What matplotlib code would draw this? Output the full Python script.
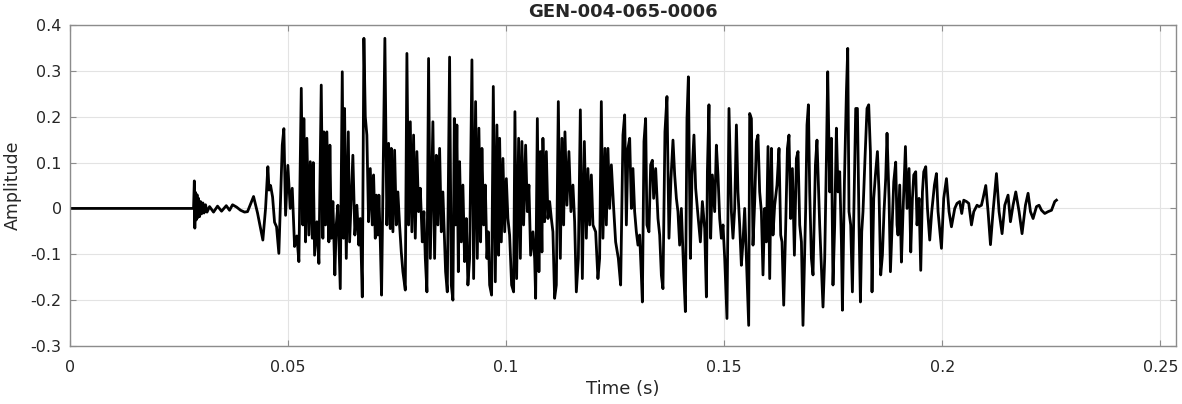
import matplotlib
matplotlib.use('Agg')
import matplotlib.pyplot as plt

# waveform extrema: time in ms, amplitude
t_ms = [
    0.0, 28.33, 28.51, 28.62, 28.78, 28.95, 29.13, 29.31, 29.47, 29.70,
    29.93, 30.16, 30.46, 30.73, 31.08, 31.42, 32.00, 32.91, 33.83, 34.75,
    35.83, 36.58, 37.27, 38.19, 39.11, 40.02, 40.71, 42.09, 43.00, 44.22,
    44.84, 45.37, 45.64, 45.99, 46.45, 46.90, 47.36, 47.89,
    48.67, 49.04, 49.43, 49.95, 50.50, 50.96, 51.49, 52.02, 52.48, 53.03,
    53.39, 53.62, 54.01, 54.31, 54.77, 55.09, 55.55, 55.78, 56.08, 56.61,
    57.07, 57.61, 57.98, 58.21, 58.60, 58.90, 59.36, 59.59, 59.91, 60.28,
    60.73, 61.05, 61.42, 61.97, 62.43, 62.73, 62.96, 63.35, 63.81, 64.11,
    64.86, 65.32, 65.78, 66.24, 66.56, 67.02, 67.39, 67.71, 68.07, 68.46,
    68.85, 69.31, 69.61, 70.00, 70.23, 70.60, 70.83, 71.15, 71.44, 72.20,
    72.66, 73.05, 73.44, 73.67, 74.04, 74.43, 74.82, 75.18, 75.57, 75.96,
    76.33, 76.88, 77.25, 77.64, 78.03, 78.39, 78.78, 79.17, 79.54, 79.93,
    80.32, 80.78, 81.15, 81.47, 81.84, 82.22, 82.62, 83.21, 83.60, 83.99,
    84.36, 84.75, 85.14, 85.50, 86.12, 86.51, 87.04, 87.43, 87.80, 88.12,
    88.42, 88.71, 89.04, 89.33, 89.72, 90.09, 90.48, 90.87, 91.24, 91.63,
    92.16, 92.55, 93.00, 93.39, 93.76, 94.15, 94.45, 94.84, 95.23, 95.60,
    95.92, 96.22, 96.67, 97.06, 97.52, 97.89, 98.28, 98.51, 98.90, 99.27,
    99.66, 100.05, 100.41, 100.80, 101.26, 101.72, 102.02, 102.41, 102.87, 103.26,
    103.62, 104.01, 104.47, 104.86, 105.23, 105.62, 106.15, 106.54, 106.77, 107.16,
    107.52, 107.84, 108.21, 108.44, 108.83, 109.22, 109.59, 109.98, 110.37, 110.73,
    111.12, 111.51, 111.97, 112.43, 112.80, 113.19, 113.49, 113.94, 114.40, 114.86,
    115.32, 115.71, 116.10, 116.56, 117.02, 117.48, 117.94, 118.39, 118.76, 119.15,
    119.54, 119.91, 120.53, 121.05, 121.44, 121.83, 122.20, 122.66, 122.98, 123.35,
    123.74, 124.13, 124.66, 125.11, 125.73, 126.26, 126.79, 127.18, 127.57, 127.94,
    128.33, 128.72, 129.08, 129.47, 129.86, 130.23, 130.62, 131.01, 131.24, 131.61,
    131.99, 132.29, 132.75, 133.14, 133.53, 133.83, 134.29, 134.82, 135.21, 135.60,
    135.96, 136.42, 136.88, 137.34, 137.80, 138.26, 138.65, 139.04, 139.40, 139.79,
    140.18, 140.71, 141.10, 141.47, 141.79, 142.25, 142.62, 143.07, 143.46, 143.99,
    144.54, 145.00, 145.53, 145.92, 146.15, 146.51, 146.90, 147.29, 147.82, 148.21,
    148.58, 148.97, 149.36, 149.73, 150.12, 150.64, 151.10, 151.65, 152.02, 152.41,
    152.80, 153.16, 153.55, 153.94, 154.31, 154.70, 155.09, 155.62, 155.85, 156.24,
    156.61, 157.00, 157.39, 157.75, 158.14, 158.53, 158.90, 159.29, 159.68, 160.05,
    160.44, 160.83, 161.19, 161.58, 162.11, 162.57, 162.96, 163.26, 163.65, 164.11,
    164.50, 164.86, 165.25, 165.64, 166.10, 166.56, 166.93, 167.32, 167.71, 168.07,
    168.69, 168.99, 169.31, 169.61, 170.00, 170.37, 170.92, 171.28, 171.74, 171.90,
    172.29, 172.66, 173.05, 173.44, 173.74, 174.20, 174.59, 174.95, 175.34, 175.73,
    176.10, 176.49, 176.88, 177.11, 177.57, 178.03, 178.33, 178.62, 179.01, 179.40,
    179.70, 180.16, 180.55, 180.92, 181.24, 181.54, 181.83, 182.29, 182.75, 183.14,
    183.53, 183.90, 184.29, 184.68, 185.14, 185.50, 185.89, 186.28, 186.65, 187.04,
    187.34, 187.80, 188.12, 188.58, 188.88, 189.33, 189.63, 189.86, 190.25, 190.64,
    191.01, 191.56, 191.93, 192.39, 192.78, 193.16, 193.47, 193.92, 194.22, 194.68,
    195.07, 195.46, 195.76, 196.22, 196.61, 197.13, 197.59, 198.21, 198.67, 199.04,
    199.82, 200.34, 200.97, 201.56, 202.11, 202.87, 203.39, 204.01, 204.47, 204.93,
    205.55, 206.08, 206.70, 207.23, 207.98, 208.44, 208.99, 209.36, 209.98, 210.51,
    211.06, 211.65, 212.43, 213.03, 213.72, 214.34, 215.09, 215.64, 216.24, 216.86,
    217.62, 218.30, 219.08, 219.68, 220.23, 220.83, 221.61, 222.20, 222.76, 223.51,
    224.27, 225.05, 225.80, 226.19,
]

amplitude = [
    0.0, 0.0, 0.060, -0.043, 0.035, -0.025, 0.030, -0.020, 0.022, -0.018,
    0.015, -0.012, 0.012, -0.010, 0.008, -0.008, 0.004, -0.008, 0.005, -0.006,
    0.006, -0.004, 0.008, 0.003, -0.004, -0.008, -0.007, 0.026, -0.010, -0.069,
    0.0, 0.091, 0.040, 0.050, 0.025, -0.030, -0.040, -0.098,
    0.138, 0.174, -0.015, 0.094, 0.0, 0.044, -0.083, -0.060, -0.116, 0.262,
    -0.036, 0.196, -0.073, 0.153, -0.058, 0.102, -0.065, 0.100, -0.102, -0.029,
    -0.120, 0.269, -0.065, 0.167, -0.036, 0.167, -0.073, 0.138, -0.065, 0.015,
    -0.145, -0.036, 0.007, -0.175, 0.298, -0.065, 0.218, -0.109, 0.167, -0.073,
    0.116, -0.058, 0.007, -0.080, -0.022, -0.193, 0.371, 0.200, 0.160, -0.029,
    0.087, -0.036, 0.073, -0.065, 0.029, -0.058, 0.029, -0.073, -0.189, 0.371,
    -0.036, 0.142, -0.044, 0.131, -0.051, 0.127, -0.036, 0.036, -0.036, -0.095,
    -0.138, -0.178, 0.338, -0.036, 0.189, -0.051, 0.160, -0.065, 0.124, -0.007,
    0.044, -0.073, -0.007, -0.109, -0.182, 0.327, -0.109, 0.189, -0.109, 0.116,
    -0.036, 0.131, -0.051, 0.036, -0.138, -0.182, 0.330, -0.167, -0.200, 0.196,
    -0.036, 0.182, -0.138, 0.102, -0.073, 0.051, -0.116, -0.022, -0.167, -0.109,
    0.324, -0.153, 0.233, -0.109, 0.175, -0.073, 0.131, -0.036, 0.051, -0.109,
    -0.051, -0.167, -0.189, 0.266, -0.160, 0.182, -0.102, 0.153, -0.073, 0.109,
    -0.051, 0.065, -0.022, -0.058, -0.167, -0.182, 0.211, -0.153, 0.153, -0.109,
    0.146, -0.036, 0.138, -0.007, 0.051, -0.102, -0.051, -0.109, -0.196, 0.196,
    -0.138, 0.124, -0.095, 0.153, -0.029, 0.124, -0.022, 0.015, -0.022, -0.051,
    -0.196, -0.167, 0.233, -0.109, 0.153, -0.036, 0.167, 0.007, 0.124, -0.007,
    0.051, -0.029, -0.182, -0.109, 0.215, -0.153, 0.146, -0.065, 0.087, -0.036,
    0.073, -0.036, -0.051, -0.153, -0.109, 0.233, -0.065, 0.131, -0.036, 0.131,
    0.0, 0.095, 0.0, -0.073, -0.109, -0.167, 0.160, 0.204, -0.036, 0.131,
    0.153, 0.0, 0.087, -0.007, -0.051, -0.080, -0.058, -0.146, -0.204, 0.146,
    0.196, -0.036, -0.051, 0.095, 0.105, 0.022, 0.087, -0.022, -0.058, -0.146,
    -0.175, 0.167, 0.244, -0.065, 0.065, 0.149, 0.073, 0.022, -0.007, -0.080,
    0.0, -0.138, -0.225, 0.196, 0.287, -0.109, 0.073, 0.160, 0.044, -0.015,
    -0.073, 0.015, -0.044, -0.193, 0.080, 0.226, -0.065, 0.073, -0.007, 0.138,
    0.073, -0.022, -0.065, -0.036, -0.109, -0.240, 0.218, -0.007, -0.065, 0.0,
    0.182, 0.036, -0.036, -0.124, -0.073, 0.0, -0.109, -0.255, 0.207, 0.196,
    -0.080, 0.015, 0.146, 0.160, 0.036, -0.007, -0.145, 0.0, -0.073, 0.135,
    -0.153, 0.131, -0.058, 0.007, 0.051, 0.131, -0.058, -0.073, -0.211, -0.036,
    0.131, 0.160, -0.022, 0.087, -0.102, 0.109, 0.124, -0.036, -0.073, -0.255,
    0.0, 0.182, 0.226, 0.036, -0.109, -0.145, 0.095, 0.149, 0.015, -0.036,
    -0.131, -0.215, -0.109, 0.109, 0.298, 0.036, 0.153, -0.167, -0.036, 0.175,
    0.036, 0.080, -0.073, -0.222, 0.058, 0.255, 0.349, -0.007, -0.036, -0.182,
    -0.022, 0.218, 0.218, -0.036, -0.204, -0.051, -0.007, 0.109, 0.218, 0.226,
    0.124, -0.182, 0.022, 0.073, 0.124, 0.036, -0.145, -0.102, -0.007, 0.066,
    0.164, 0.022, -0.138, -0.022, 0.058, 0.101, -0.036, -0.058, 0.051, -0.117,
    -0.007, 0.135, 0.0, 0.087, -0.095, 0.022, 0.073, 0.080, -0.036, 0.022,
    -0.135, 0.036, 0.080, 0.091, 0.0, -0.069, -0.007, 0.051, 0.076, -0.007,
    -0.087, 0.022, 0.065, -0.007, -0.040, 0.0, 0.011, 0.015, -0.011, 0.018,
    0.015, 0.011, -0.036, -0.007, 0.007, 0.004, 0.007, 0.022, 0.050, -0.007,
    -0.079, -0.007, 0.076, -0.007, -0.055, 0.007, 0.029, -0.029, 0.007, 0.036,
    -0.007, -0.055, 0.007, 0.033, -0.007, -0.022, 0.004, 0.007, -0.004, -0.011,
    -0.007, -0.004, 0.015, 0.018,
]

x_ticks = [0, 0.05, 0.1, 0.15, 0.2, 0.25]
x_labels = ['0', '0.05', '0.1', '0.15', '0.2', '0.25']
y_ticks = [-0.3, -0.2, -0.1, 0, 0.1, 0.2, 0.3, 0.4]
y_labels = ['-0.3', '-0.2', '-0.1', '0', '0.1', '0.2', '0.3', '0.4']

plt.rcParams['font.family'] = ['DejaVu Sans']

fig = plt.figure(figsize=(11.82, 4.04), dpi=100, facecolor='w')
ax = fig.add_axes([70 / 1182, 58 / 404, 1106 / 1182, 321 / 404])

t = [v / 1000 for v in t_ms]
ax.plot(t, amplitude, color='black', lw=2.0, solid_joinstyle='round')

ax.set_xlim(0, 0.2536)
ax.set_ylim(-0.3, 0.4)
ax.set_xticks(x_ticks)
ax.set_xticklabels(x_labels)
ax.set_yticks(y_ticks)
ax.set_yticklabels(y_labels)

ax.grid(True, color='#e3e3e3', lw=0.8)
ax.set_axisbelow(True)
for spine in ax.spines.values():
    spine.set_color('#8c8c8c')
    spine.set_linewidth(1.0)
ax.tick_params(direction='in', length=4, width=0.8, color='#8c8c8c',
               labelcolor='#262626', labelsize=11.5)
ax.tick_params(axis='x', pad=10)
ax.tick_params(axis='y', pad=6)
ax.tick_params(top=True, right=True)

ax.set_xlabel('Time (s)', fontsize=13, color='#262626', labelpad=4)
ax.set_ylabel('Amplitude', fontsize=12.5, color='#262626', labelpad=6)
ax.set_title('GEN-004-065-0006', fontsize=13, fontweight='bold',
             color='#262626', pad=6)

fig.savefig('out.png', dpi=100, facecolor='w')
